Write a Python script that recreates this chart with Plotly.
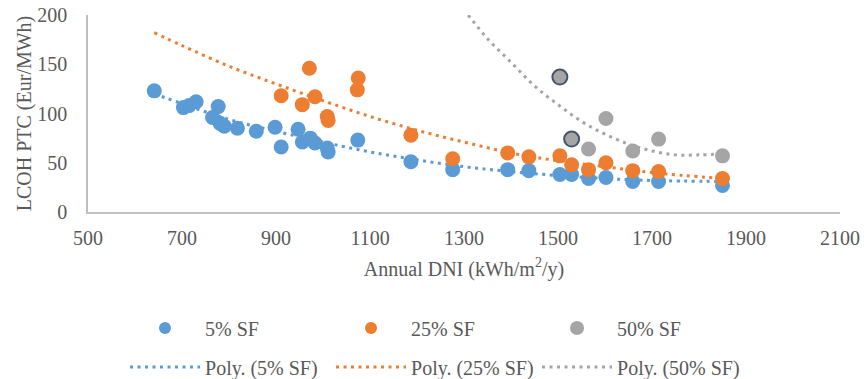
import plotly.graph_objects as go

# ---- data ----
dni_5 = [641, 703, 715, 730, 765, 777, 781, 790, 818, 858, 898, 911, 947, 956, 973, 983,
         1009, 1011, 1074, 1187, 1276, 1393, 1438, 1504, 1529, 1565, 1602, 1659, 1714, 1850]
lcoh_5 = [123, 106, 108, 112, 96, 107, 90, 87, 85, 82, 86, 66, 84, 71, 75, 70,
          65, 61, 73, 51, 43, 43, 42, 38, 38, 34, 35, 31, 31, 27]

dni_25 = [911, 956, 971, 983, 1009, 1011, 1073, 1075, 1187, 1276, 1393, 1438, 1504, 1529,
          1565, 1602, 1659, 1714, 1850]
lcoh_25 = [118, 109, 146, 117, 97, 93, 124, 136, 78, 54, 60, 56, 57, 48,
           43, 50, 42, 41, 34]

dni_50 = [1565, 1602, 1659, 1714, 1850, 1504, 1529]
lcoh_50 = [64, 95, 62, 74, 57, 137, 74]
highlight_50 = [False, False, False, False, False, True, True]

# polynomial trend lines
trend_x_5 = [641, 700, 800, 900, 1000, 1100, 1200, 1300, 1400, 1500, 1600, 1700, 1850]
trend_y_5 = [120, 110, 94, 82, 71, 61, 53, 46, 41, 37, 34, 32, 31]
trend_x_25 = [641, 700, 800, 900, 1000, 1100, 1200, 1300, 1400, 1500, 1600, 1700, 1850]
trend_y_25 = [182, 169, 148, 130, 113, 97, 83, 71, 60, 52, 46, 40, 34]
trend_x_50 = [1309, 1350, 1400, 1450, 1500, 1550, 1600, 1650, 1700, 1750, 1800, 1850]
trend_y_50 = [200, 176, 152, 128, 109, 92, 79, 69, 62, 58, 58, 59]

x_ticks = [500, 700, 900, 1100, 1300, 1500, 1700, 1900, 2100]
y_ticks = [0, 50, 100, 150, 200]

BLUE = "#5B9BD5"
ORANGE = "#ED7D31"
GRAY = "#A5A5A5"
TEXT = "#595959"
FONT = "Liberation Serif"
FS = 20

fig = go.Figure()

dash = "3px,4.5px"
for name, tx, ty, col in [("Poly. (5% SF)", trend_x_5, trend_y_5, BLUE),
                          ("Poly. (25% SF)", trend_x_25, trend_y_25, ORANGE),
                          ("Poly. (50% SF)", trend_x_50, trend_y_50, GRAY)]:
    fig.add_trace(go.Scatter(x=tx, y=ty, mode="lines", name=name,
                             line=dict(color=col, width=3, dash=dash, shape="spline"),
                             legend="legend2", hoverinfo="skip"))

fig.add_trace(go.Scatter(x=dni_5, y=lcoh_5, mode="markers", name="5% SF",
                         marker=dict(color=BLUE, size=15, line=dict(width=0)),
                         legend="legend"))
fig.add_trace(go.Scatter(x=dni_25, y=lcoh_25, mode="markers", name="25% SF",
                         marker=dict(color=ORANGE, size=15, line=dict(width=0)),
                         legend="legend"))
fig.add_trace(go.Scatter(x=dni_50, y=lcoh_50, mode="markers", name="50% SF",
                         marker=dict(color=GRAY, size=15,
                                     line=dict(width=[2 if h else 0 for h in highlight_50],
                                               color=["#44546A" if h else GRAY for h in highlight_50])),
                         legend="legend"))

fig.update_layout(
    width=864, height=379,
    margin=dict(l=88, r=24, t=15, b=167, autoexpand=False),
    paper_bgcolor="white", plot_bgcolor="white",
    font=dict(family=FONT, size=FS, color=TEXT),
    xaxis=dict(range=[500, 2100], tickvals=x_ticks, automargin=False,
               showgrid=False, zeroline=False, showline=True, linecolor="#BFBFBF", linewidth=1.5,
               ticks="", ticklabelstandoff=7, tickfont=dict(size=FS),
               title=dict(text="Annual DNI (kWh/m<sup>2</sup>/y)", standoff=14,
                          font=dict(size=FS, family=FONT, color=TEXT))),
    yaxis=dict(range=[0, 200], tickvals=y_ticks, automargin=False,
               showgrid=False, zeroline=False, showline=True, linecolor="#BFBFBF", linewidth=1.5,
               ticks="", ticklabelstandoff=15, tickfont=dict(size=FS),
               title=dict(text="LCOH PTC (Eur/MWh)", standoff=0,
                          font=dict(size=FS, family=FONT, color=TEXT))),
    legend=dict(orientation="h", xref="container", yref="container",
                x=0.1447, xanchor="left", y=1 - 328 / 379, yanchor="middle",
                itemsizing="constant", itemwidth=70, entrywidth=121,
                font=dict(size=FS, family=FONT, color=TEXT), bgcolor="rgba(0,0,0,0)",
                traceorder="normal"),
    legend2=dict(orientation="h", xref="container", yref="container",
                 x=0.1447, xanchor="left", y=1 - 367 / 379, yanchor="middle",
                 itemwidth=70, entrywidth=121,
                 font=dict(size=FS, family=FONT, color=TEXT), bgcolor="rgba(0,0,0,0)",
                 traceorder="normal"),
    showlegend=True,
)

fig.write_html("out.html", config={"displayModeBar": False},
               post_script="document.body.style.margin='0px';")
